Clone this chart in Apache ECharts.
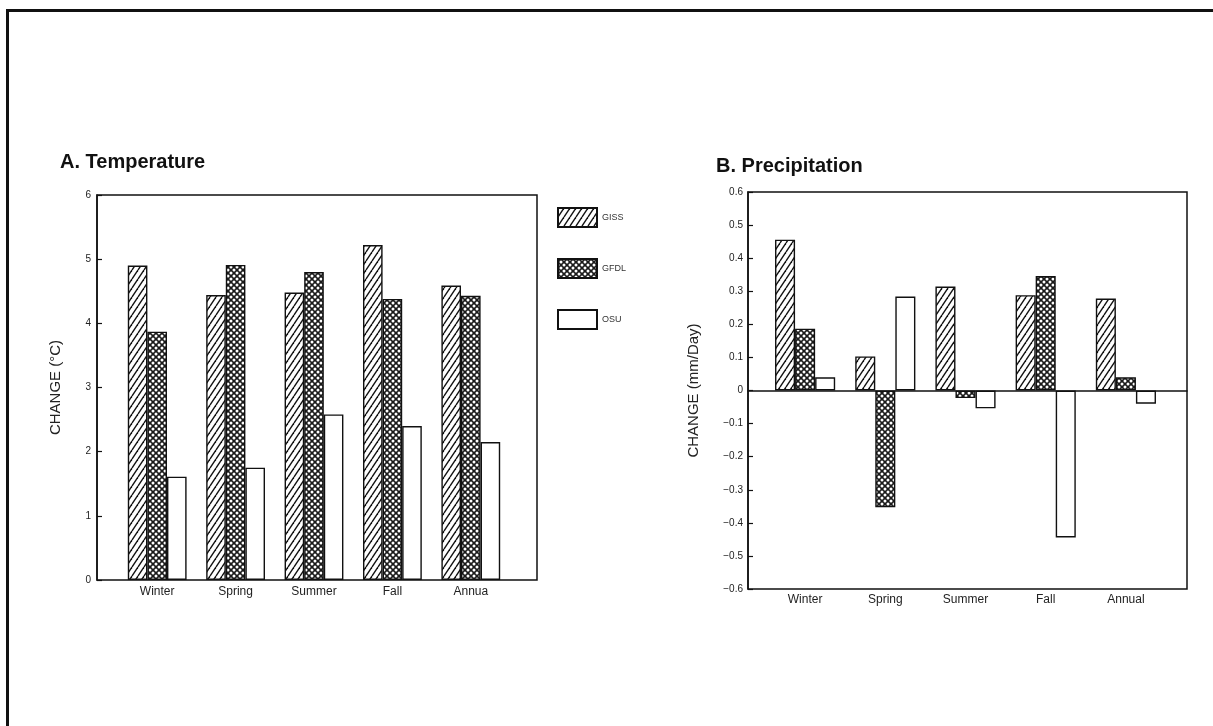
<!DOCTYPE html>
<html>
<head>
<meta charset="utf-8">
<style>
  html, body { margin: 0; padding: 0; background: #fff; overflow: hidden; }
  #main { width: 1213px; height: 726px; }
  #edge { position: absolute; left: 6px; top: 9px; width: 1220px; height: 730px;
          border-top: 3px solid #111; border-left: 3px solid #111; pointer-events: none; }
</style>
</head>
<body>
<div id="main"></div>
<div id="edge"></div>
<script src="https://cdn.jsdelivr.net/npm/echarts@6/dist/echarts.min.js"></script>
<script>
    // A. Temperature (change, °C)
    var seasonsA = ['Winter', 'Spring', 'Summer', 'Fall', 'Annua'];
    var tempGISS = [4.9, 4.44, 4.48, 5.22, 4.59];
    var tempGFDL = [3.87, 4.91, 4.8, 4.38, 4.43];
    var tempOSU = [1.61, 1.75, 2.58, 2.4, 2.15];

    // B. Precipitation (change, mm/day)
    var seasonsB = ['Winter', 'Spring', 'Summer', 'Fall', 'Annual'];
    var precGISS = [0.456, 0.103, 0.314, 0.288, 0.278];
    var precGFDL = [0.187, -0.353, -0.023, 0.346, 0.04];
    var precOSU = [0.04, 0.284, -0.054, -0.444, -0.04];

    var models = ['GISS', 'GFDL', 'OSU'];

    var ink = '#111';
    var font = "'Liberation Sans', Arial, Helvetica, sans-serif";

    // diagonal hatch for GISS
    function hatchTile() {
        var w = 6, h = 9;
        var c = document.createElement('canvas');
        c.width = w; c.height = h;
        var g = c.getContext('2d');
        g.fillStyle = '#fff';
        g.fillRect(0, 0, w, h);
        g.strokeStyle = ink;
        g.lineWidth = 1.4;
        [-w, 0, w].forEach(function (o) {
            g.beginPath();
            g.moveTo(o, h);
            g.lineTo(o + w, 0);
            g.stroke();
        });
        return c;
    }

    // dark mesh with white holes for GFDL
    function meshTile() {
        var s = 6;
        var c = document.createElement('canvas');
        c.width = s; c.height = s;
        var g = c.getContext('2d');
        g.fillStyle = '#1a1a1a';
        g.fillRect(0, 0, s, s);
        g.fillStyle = '#fff';
        [[3, 3], [0, 0], [s, 0], [0, s], [s, s]].forEach(function (p) {
            g.beginPath();
            g.ellipse(p[0], p[1], 1.5, 1.5, 0, 0, Math.PI * 2);
            g.fill();
        });
        return c;
    }

    var fills = [
        { image: hatchTile(), repeat: 'repeat' },
        { image: meshTile(), repeat: 'repeat' },
        '#fff'
    ];

    function bar(name, data, idx, fill) {
        return {
            name: name,
            type: 'bar',
            xAxisIndex: idx,
            yAxisIndex: idx,
            data: data,
            barGap: 0,
            barCategoryGap: '25%',
            itemStyle: { color: fill, borderColor: ink, borderWidth: 1.4 },
            emphasis: { disabled: true }
        };
    }

    function tickAxis(grid, min, max, step, name, gap, fmt, margin) {
        return {
            type: 'value', gridIndex: grid, min: min, max: max, interval: step,
            name: name, nameLocation: 'middle', nameGap: gap,
            nameTextStyle: { fontSize: 15, color: '#222', fontFamily: font },
            axisLine: { show: true, lineStyle: { color: ink, width: 1.5 } },
            axisTick: { show: true, inside: true, length: 5, lineStyle: { color: ink, width: 1.2 } },
            axisLabel: { fontSize: 10, color: '#222', margin: margin, formatter: fmt, fontFamily: font },
            splitLine: { show: false }
        };
    }

    function catAxis(grid, data, margin) {
        return {
            type: 'category', gridIndex: grid, data: data,
            axisLine: { show: false, onZero: false },
            axisTick: { show: false },
            axisLabel: { fontSize: 12, color: '#222', margin: margin, fontFamily: font },
            splitLine: { show: false }
        };
    }

    var option = {
        animation: false,
        textStyle: { fontFamily: font },
        title: [
            { text: 'A. Temperature', left: 60, top: 152, padding: 0,
              textStyle: { fontSize: 20, fontWeight: 'bold', color: '#111' } },
            { text: 'B. Precipitation', left: 716, top: 156, padding: 0,
              textStyle: { fontSize: 20, fontWeight: 'bold', color: '#111' } }
        ],
        legend: {
            data: models, orient: 'vertical', left: 557, top: 207, padding: 0,
            itemWidth: 39, itemHeight: 19, itemGap: 30, icon: 'rect',
            selectedMode: false,
            textStyle: { fontSize: 9, color: '#333' }
        },
        grid: [
            { left: 97, top: 195, width: 440, height: 385, show: true, borderColor: ink, borderWidth: 1.5 },
            { left: 118, top: 195, width: 392, height: 385 },
            { left: 748, top: 192, width: 439, height: 397, show: true, borderColor: ink, borderWidth: 1.5 },
            { left: 765, top: 192, width: 401, height: 397 }
        ],
        xAxis: [
            { type: 'value', gridIndex: 0, min: 0, max: 1, show: false },
            catAxis(1, seasonsA, 6),
            { type: 'value', gridIndex: 2, min: 0, max: 1,
              axisLine: { show: true, onZero: true, lineStyle: { color: ink, width: 1.5 } },
              axisTick: { show: false }, axisLabel: { show: false }, splitLine: { show: false } },
            catAxis(3, seasonsB, 5)
        ],
        yAxis: [
            tickAxis(0, 0, 6, 1, 'CHANGE (°C)', 34, null, 6),
            { type: 'value', gridIndex: 1, min: 0, max: 6, show: false },
            tickAxis(2, -0.6, 0.6, 0.1, 'CHANGE (mm/Day)', 47, function (v) {
                if (Math.abs(v) < 1e-9) return '0';
                return (v < 0 ? '\u2212' : '') + Math.abs(v).toFixed(1);
            }, 5),
            { type: 'value', gridIndex: 3, min: -0.6, max: 0.6, show: false }
        ],
        series: [
            bar('GISS', tempGISS, 1, fills[0]),
            bar('GFDL', tempGFDL, 1, fills[1]),
            bar('OSU', tempOSU, 1, fills[2]),
            bar('GISS', precGISS, 3, fills[0]),
            bar('GFDL', precGFDL, 3, fills[1]),
            bar('OSU', precOSU, 3, fills[2])
        ]
    };

    var myChart = echarts.init(document.getElementById('main'));
    myChart.setOption(option);
</script>
</body>
</html>
